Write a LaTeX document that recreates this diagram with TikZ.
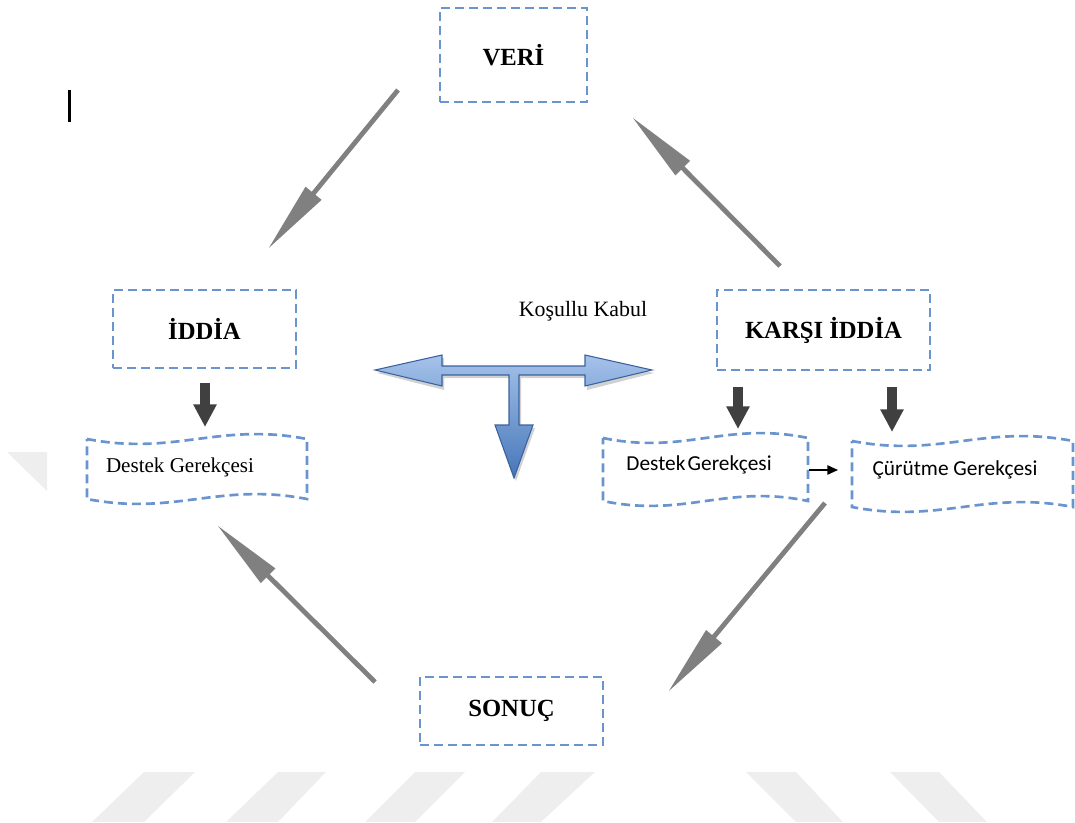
\documentclass[tikz,border=0pt]{standalone}
\usepackage{fontspec}
\setmainfont{Liberation Serif}
\newfontfamily\calib{Carlito}
\newfontfamily\timesf{Liberation Serif}
\usetikzlibrary{arrows.meta}
\definecolor{boxblue}{RGB}{105,148,206}
\definecolor{arrgray}{RGB}{128,128,128}
\definecolor{darkarr}{RGB}{64,64,64}
\definecolor{tlight}{RGB}{165,194,234}
\definecolor{tdark}{RGB}{70,118,184}
\definecolor{tedge}{RGB}{58,98,158}
\definecolor{wm}{RGB}{238,238,238}
\newcommand{\wavyframe}[4]{% x1 x2 ytop ybottom
  \draw[wavestyle] (#1,#3) .. controls ({#1+0.4*(#2-#1)},{#3+17}) and ({#1+0.6*(#2-#1)},{#3-17}) .. (#2,#3)
    -- (#2,#4) .. controls ({#1+0.6*(#2-#1)},{#4-17}) and ({#1+0.4*(#2-#1)},{#4+17}) .. (#1,#4) -- cycle;}
\begin{document}
\begin{tikzpicture}[x=0.75pt,y=-0.75pt,
  dbox/.style={draw=boxblue, line width=2pt, dash pattern=on 6.75pt off 3.75pt, inner sep=0pt, outer sep=0pt,
     font=\timesf\bfseries\fontsize{18.5}{20}\selectfont},
  wavestyle/.style={draw=boxblue, line width=2pt, dash pattern=on 6.75pt off 3.75pt},
  garr/.style={draw=arrgray, line width=3.6pt, -{Triangle[length=54pt,width=14.5pt]}},
  darr/.style={draw=darkarr, line width=7.5pt, -{Triangle[length=17pt,width=16.5pt]}},
  smallarr/.style={draw=black, line width=1.1pt, -{Triangle[length=8pt,width=7pt]}},
  sertext/.style={font=\timesf\fontsize{15.8}{18}\selectfont, inner sep=0pt},
  caltext/.style={font=\calib\fontsize{16}{18}\selectfont, inner sep=0pt},
  wmark/.style={fill=wm, draw=none}]
\useasboundingbox (0,0) rectangle (1075,822);

% faint watermark
\fill[wmark] (144,772) -- (195,772) -- (144,822) -- (92,822) -- cycle;
\fill[wmark] (278,772) -- (326,772) -- (278,822) -- (226,822) -- cycle;
\fill[wmark] (415,772) -- (465,772) -- (415,822) -- (365,822) -- cycle;
\fill[wmark] (541,772) -- (595,772) -- (541,822) -- (492,822) -- cycle;
\fill[wmark] (746,772) -- (796,772) -- (843,822) -- (796,822) -- cycle;
\fill[wmark] (890,772) -- (939,772) -- (987,822) -- (939,822) -- cycle;
\fill[wmark] (7,452) -- (47,452) -- (47,491) -- cycle;

% text cursor
\fill[black] (68,90) rectangle (71,122);

% main boxes
\node[dbox, minimum width=110.25pt, minimum height=70.5pt] (veri) at (513.5,55) {VERİ};
\node[dbox, minimum width=137.25pt, minimum height=58.5pt] (iddia) at (204.5,329) {İDDİA};
\node[dbox, minimum width=159.75pt, minimum height=60pt] (karsi) at (823.5,330) {KARŞI İDDİA};
\node[dbox, minimum width=137.25pt, minimum height=51pt] (sonuc) at (511.5,711) {SONUÇ};

% wavy boxes
\wavyframe{87}{307}{439}{499}
\wavyframe{603}{808}{438}{501}
\wavyframe{852}{1073}{441}{507}
\node[sertext] (dg1) at (180,467) {Destek Gerekçesi};
\node[caltext] (dg2) at (699,465) {Destek\hspace{0.1em}Gerekçesi};
\node[caltext] (cg) at (955,470) {Çürütme Gerekçesi};

\node[font=\timesf\fontsize{16.4}{18}\selectfont, inner sep=0pt] (kk) at (583,311) {Koşullu Kabul};

% coordinates for connector ends
\coordinate (a1s) at (398,90);  \coordinate (a1e) at (268,249);
\coordinate (a2s) at (780,266); \coordinate (a2e) at (632,117);
\coordinate (a3s) at (375,682); \coordinate (a3e) at (217,525);
\coordinate (a4s) at (825,503); \coordinate (a4e) at (668,692);

\draw[garr] (a1s) -- (a1e);
\draw[garr] (a2s) -- (a2e);
\draw[garr] (a3s) -- (a3e);
\draw[garr] (a4s) -- (a4e);

% dark down arrows
\coordinate (d1s) at (205,383); \coordinate (d1e) at (205,427);
\coordinate (d2s) at (738,387); \coordinate (d2e) at (738,429);
\coordinate (d3s) at (892,387); \coordinate (d3e) at (892,432);
\draw[darr] (d1s) -- (d1e);
\draw[darr] (d2s) -- (d2e);
\draw[darr] (d3s) -- (d3e);

% small black arrow
\coordinate (sa) at (809,470); \coordinate (sb) at (838,470);
\draw[smallarr] (sa) -- (sb);

% blue T arrow (Koşullu Kabul)
\fill[black, opacity=0.18] (377,373) -- (444,358) -- (444,369) -- (587,369) -- (587,358) -- (654,373)
  -- (587,390) -- (587,378) -- (521,378) -- (521,428) -- (535,428) -- (516,481) -- (497,428) -- (511,428)
  -- (511,378) -- (444,378) -- (444,390) -- cycle;
\path[top color=tlight, bottom color=tdark, draw=tedge, line width=0.8pt, line join=miter]
  (375,370) -- (442,355) -- (442,366) -- (585,366) -- (585,355) -- (652,370) -- (585,386) -- (585,375)
  -- (519,375) -- (519,425) -- (533,425) -- (514,478) -- (495,425) -- (509,425) -- (509,375)
  -- (442,375) -- (442,386) -- cycle;
\end{tikzpicture}
\end{document}
